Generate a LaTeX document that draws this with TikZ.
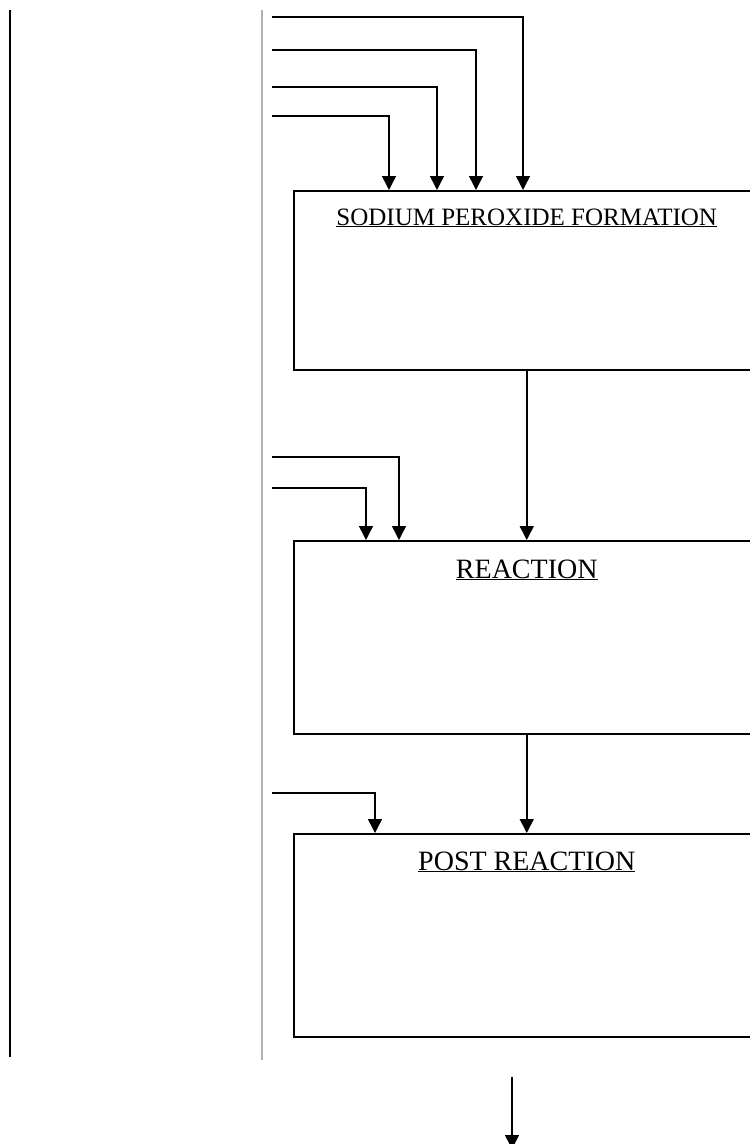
\documentclass[tikz,border=0pt]{standalone}
\usepackage{fontspec}
\setmainfont{Liberation Serif}
\usetikzlibrary{arrows.meta,positioning}
\tikzset{
  procbox/.style={draw, line width=1.5pt, minimum width=466pt, inner sep=0pt, anchor=north west},
  boxtitle/.style={anchor=base, font=\fontsize{28}{32}\selectfont},
  flow/.style={line width=1.5pt, -{Triangle[width=14pt,length=14pt]}},
  rail/.style={line width=2pt, gray!60},
}
\begin{document}
\begin{tikzpicture}[x=1pt,y=-1pt]
\useasboundingbox (0,0) rectangle (750,1144);
\clip (0,0) rectangle (750,1144);
% side rails
\draw[line width=1.6pt] (10,10) -- (10,1057);
\draw[rail] (262,10) -- (262,1060);
% process boxes
\node[procbox, minimum height=179pt] (sodium) at (293,190) {};
\node[procbox, minimum height=193pt] (reaction) at (293,540) {};
\node[procbox, minimum height=203pt] (post) at (293,833) {};
\node[boxtitle, font=\fontsize{25}{30}\selectfont] (sodiumtitle) at ([yshift=-35pt]sodium.north) {\underline{SODIUM PEROXIDE FORMATION}};
\node[boxtitle] (reactiontitle) at ([yshift=-38pt]reaction.north) {\underline{REACTION}};
\node[boxtitle] (posttitle) at ([yshift=-37pt]post.north) {\underline{POST REACTION}};
% feeds
\coordinate (feedA) at (272,17);
\coordinate (feedB) at (272,50);
\coordinate (feedC) at (272,87);
\coordinate (feedD) at (272,116);
\coordinate (feedE) at (272,457);
\coordinate (feedF) at (272,488);
\coordinate (feedG) at (272,793);
\draw[flow] (feedA) -| ([xshift=230pt]sodium.north west);
\draw[flow] (feedB) -| ([xshift=183pt]sodium.north west);
\draw[flow] (feedC) -| ([xshift=144pt]sodium.north west);
\draw[flow] (feedD) -| ([xshift=96pt]sodium.north west);
\draw[flow] (feedE) -| ([xshift=106pt]reaction.north west);
\draw[flow] (feedF) -| ([xshift=73pt]reaction.north west);
\draw[flow] (feedG) -| ([xshift=82pt]post.north west);
% main line
\draw[flow] (sodium.south) -- (reaction.north);
\draw[flow] (reaction.south) -- (post.north);
\coordinate (outtop) at (512,1077);
\coordinate (outend) at (512,1149);
\draw[flow] (outtop) -- (outend);
\end{tikzpicture}
\end{document}
